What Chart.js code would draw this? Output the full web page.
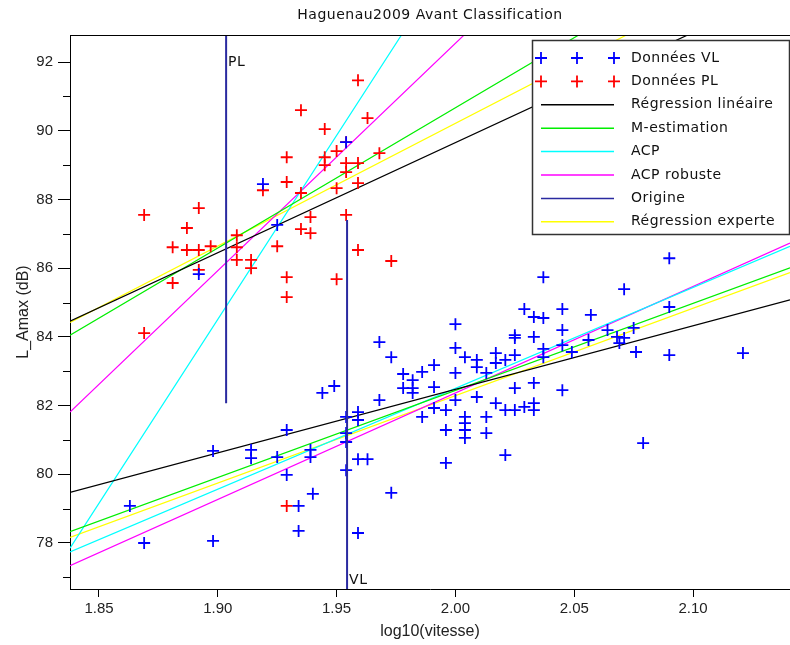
<!DOCTYPE html>
<html>
<head>
<meta charset="utf-8">
<script src="https://cdn.jsdelivr.net/npm/chart.js@4.4.0/dist/chart.umd.min.js"></script>
<style>
  html, body { margin: 0; padding: 0; background: #fff; }
  #wrap { width: 790px; height: 645px; position: relative; }
</style>
</head>
<body>
<div id="wrap"><canvas id="chart"></canvas></div>
<script>
// Axis ranges and ticks
const xMin = 1.8378, xMax = 2.1408;
const yMin = 76.66, yMax = 92.79;
const xTicks = [1.85, 1.90, 1.95, 2.00, 2.05, 2.10];
const yTicks = [78, 80, 82, 84, 86, 88, 90, 92];
const yMinorTicks = [77, 79, 81, 83, 85, 87, 89, 91];

const chartTitle = 'Haguenau2009 Avant Classification';

// Données VL (light vehicles)
const vlX = [1.954, 1.919, 1.925, 1.892, 1.954, 1.959, 1.959, 1.929, 1.898, 1.914,
             1.914, 1.925, 1.939, 1.939, 1.954, 1.954, 1.959, 1.963, 1.954, 1.929,
             1.863, 1.934, 1.940, 1.934, 1.869, 1.898, 1.959, 1.968, 1.973, 1.991,
             1.986, 1.978, 1.982, 1.978, 1.982, 1.991, 1.982, 1.968, 1.991, 1.986,
             1.949, 1.944, 1.973, 2.090, 2.037, 2.071, 2.090, 2.029, 2.033, 2.037,
             2.045, 2.057, 2.000, 2.025, 2.025, 2.033, 2.045, 2.064, 2.075, 2.037,
             2.045, 2.049, 2.056, 2.068, 2.069, 2.071, 2.076, 2.090, 2.121, 2.000,
             2.004, 2.009, 2.009, 2.017, 2.017, 2.021, 2.025, 2.037, 2.000, 2.013,
             2.025, 2.033, 2.045, 2.009, 2.000, 2.017, 2.021, 2.025, 2.029, 2.033,
             2.033, 2.004, 2.004, 2.004, 2.004, 2.013, 2.013, 1.996, 1.996, 2.021,
             1.996, 2.079];
const vlY = [89.67, 88.45, 87.26, 85.83, 81.67, 81.81, 81.58, 81.29, 80.68, 80.71,
             80.47, 80.50, 80.71, 80.50, 81.20, 80.94, 80.44, 80.44, 80.12, 79.98,
             79.08, 79.08, 79.43, 78.35, 78.00, 78.06, 78.29, 83.85, 83.41, 83.18,
             82.98, 82.92, 82.74, 82.51, 82.51, 82.54, 82.37, 82.16, 81.93, 81.67,
             82.57, 82.37, 79.46, 86.29, 85.74, 85.39, 84.87, 84.81, 84.58, 84.55,
             84.81, 84.64, 84.37, 84.05, 83.97, 84.00, 84.20, 84.20, 84.26, 83.65,
             83.76, 83.56, 83.91, 84.00, 83.82, 83.97, 83.56, 83.47, 83.53, 83.68,
             83.41, 83.33, 83.12, 83.53, 83.24, 83.33, 83.47, 83.41, 82.95, 82.95,
             82.51, 82.66, 82.45, 82.25, 82.16, 82.07, 81.87, 81.87, 81.96, 82.07,
             81.87, 81.67, 81.49, 81.29, 81.06, 81.67, 81.20, 81.87, 81.29, 80.56,
             80.33, 80.91];

// Données PL (heavy vehicles)
const plX = [1.959, 1.935, 1.963, 1.945, 1.950, 1.954, 1.929, 1.945, 1.945, 1.954,
             1.959, 1.968, 1.954, 1.929, 1.950, 1.959, 1.919, 1.935, 1.892, 1.869,
             1.887, 1.939, 1.954, 1.935, 1.939, 1.925, 1.908, 1.881, 1.887, 1.892,
             1.897, 1.908, 1.908, 1.914, 1.914, 1.892, 1.881, 1.929, 1.929, 1.950,
             1.959, 1.973, 1.869, 1.929];
const plY = [91.47, 90.60, 90.37, 90.05, 89.41, 89.67, 89.23, 89.23, 89.00, 89.06,
             89.06, 89.35, 88.80, 88.51, 88.33, 88.48, 88.27, 88.19, 87.75, 87.55,
             87.17, 87.49, 87.55, 87.14, 87.02, 86.64, 86.96, 86.61, 86.53, 86.53,
             86.64, 86.61, 86.24, 86.24, 86.00, 85.95, 85.57, 85.74, 85.16, 85.68,
             86.53, 86.21, 84.11, 79.08];

// Fitted lines: y at xMin and xMax, for the VL group and the PL group
const lineX = [xMin, xMax];
const regLinVL = [79.47, 85.08],  regLinPL = [84.46, 94.17];
const mEstVL = [78.33, 86.01],    mEstPL = [84.05, 96.42];
const acpVL = [77.74, 86.64],     acpPL = [77.85, 110.3];
const acpRobVL = [77.34, 86.73],  acpRobPL = [81.81, 101.87];
const expertVL = [78.16, 85.87],  expertPL = [84.42, 95.25];

// Origin markers (vertical lines)
const originPLX = 1.9035, originPLY = [82.07, 93.5];
const originVLX = 1.9544, originVLY = [87.40, 76.0];
const plLabelY = 92.0, vlLabelY = 76.92;

function points(xs, ys) {
  return xs.map((x, i) => ({ x: x, y: ys[i] }));
}

function twoLines(vl, pl) {
  return [
    { x: lineX[0], y: vl[0] }, { x: lineX[1], y: vl[1] },
    { x: 2.0, y: null },
    { x: lineX[0], y: pl[0] }, { x: lineX[1], y: pl[1] }
  ];
}

function lineSet(label, color, data, width, order) {
  return {
    label: label, data: data, showLine: true, spanGaps: false,
    borderColor: color, backgroundColor: color, borderWidth: width,
    pointRadius: 0, tension: 0, order: order
  };
}

const datasets = [
  {
    label: 'Données VL', data: points(vlX, vlY), pointStyle: 'cross',
    pointRadius: 6, pointBorderWidth: 1.8, borderColor: '#0000ff',
    backgroundColor: '#0000ff', showLine: false, order: 1
  },
  {
    label: 'Données PL', data: points(plX, plY), pointStyle: 'cross',
    pointRadius: 6, pointBorderWidth: 1.8, borderColor: '#ff0000',
    backgroundColor: '#ff0000', showLine: false, order: 1
  },
  lineSet('Régression linéaire', '#000000', twoLines(regLinVL, regLinPL), 1.2, 2),
  lineSet('M-estimation', '#00ee00', twoLines(mEstVL, mEstPL), 1.2, 2),
  lineSet('ACP', '#00ffff', twoLines(acpVL, acpPL), 1.2, 2),
  lineSet('ACP robuste', '#ff00ff', twoLines(acpRobVL, acpRobPL), 1.2, 2),
  lineSet('Origine', '#2a2aa0', [
    { x: originPLX, y: originPLY[0] }, { x: originPLX, y: originPLY[1] },
    { x: 1.93, y: null },
    { x: originVLX, y: originVLY[0] }, { x: originVLX, y: originVLY[1] }
  ], 2, 0),
  lineSet('Régression experte', '#ffff00', twoLines(expertVL, expertPL), 1.2, 2)
];

// Frame top line, minor ticks, title, PL/VL labels and legend box
const decorPlugin = {
  id: 'decor',
  afterDraw(chart) {
    const ctx = chart.ctx;
    const area = chart.chartArea;
    const xs = chart.scales.x, ys = chart.scales.y;
    ctx.save();
    ctx.strokeStyle = '#000';
    ctx.lineWidth = 1;
    ctx.beginPath();
    ctx.moveTo(area.left, area.top + 0.5);
    ctx.lineTo(area.right, area.top + 0.5);
    yMinorTicks.forEach(v => {
      const py = Math.round(ys.getPixelForValue(v)) + 0.5;
      ctx.moveTo(area.left - 7, py);
      ctx.lineTo(area.left, py);
    });
    ctx.stroke();

    ctx.font = '14px "DejaVu Sans"';
    ctx.letterSpacing = '0.5px';
    ctx.fillStyle = '#111';
    ctx.textBaseline = 'middle';
    ctx.textAlign = 'center';
    ctx.fillText(chartTitle, (area.left + area.right) / 2, 15);

    ctx.textAlign = 'left';
    ctx.fillText('PL', xs.getPixelForValue(originPLX) + 2, ys.getPixelForValue(plLabelY));
    ctx.fillText('VL', xs.getPixelForValue(originVLX) + 2, ys.getPixelForValue(vlLabelY));

    // legend
    const lx = 532, ly = 40, lw = 257, lh = 194;
    ctx.fillStyle = '#fff';
    ctx.fillRect(lx, ly, lw, lh);
    ctx.strokeStyle = '#333';
    ctx.lineWidth = 1.5;
    ctx.strokeRect(lx + 0.5, ly + 0.5, lw, lh);
    chart.data.datasets.forEach((ds, i) => {
      const y = 58 + i * 23.4;
      ctx.strokeStyle = ds.borderColor;
      ctx.lineWidth = 1.5;
      if (ds.showLine) {
        ctx.beginPath();
        ctx.moveTo(541, y);
        ctx.lineTo(614, y);
        ctx.stroke();
      } else {
        ctx.lineWidth = 1.8;
        [541, 577, 614].forEach(cx => {
          ctx.beginPath();
          ctx.moveTo(cx - 6, y); ctx.lineTo(cx + 6, y);
          ctx.moveTo(cx, y - 6); ctx.lineTo(cx, y + 6);
          ctx.stroke();
        });
      }
      ctx.fillStyle = '#111';
      ctx.fillText(ds.label, 631, y);
    });
    ctx.restore();
  }
};

const tickFont = { family: 'Liberation Sans', size: 15 };
const titleFont = { family: 'Liberation Sans', size: 16 };

new Chart(document.getElementById('chart'), {
  type: 'scatter',
  data: { datasets: datasets },
  plugins: [decorPlugin],
  options: {
    responsive: true,
    maintainAspectRatio: false,
    animation: false,
    layout: { autoPadding: false, padding: { top: 35, right: 0, bottom: 0, left: 0 } },
    plugins: {
      legend: { display: false },
      tooltip: { enabled: false }
    },
    scales: {
      x: {
        type: 'linear', min: xMin, max: xMax,
        afterBuildTicks: s => { s.ticks = xTicks.map(v => ({ value: v })); },
        afterFit: s => { s.height = 56; s.paddingLeft = 0; s.paddingRight = 0; },
        ticks: {
          callback: v => Number(v).toFixed(2), font: tickFont, color: '#222',
          padding: 3, maxRotation: 0, autoSkip: false
        },
        grid: { drawOnChartArea: false, drawTicks: true, tickLength: 8, color: '#000' },
        border: { display: true, color: '#000', width: 1 },
        title: {
          display: true, text: 'log10(vitesse)', font: titleFont, color: '#222',
          padding: { top: 0, bottom: 4 }
        }
      },
      y: {
        type: 'linear', min: yMin, max: yMax,
        afterBuildTicks: s => { s.ticks = yTicks.map(v => ({ value: v })); },
        afterFit: s => { s.width = 70; s.paddingTop = 0; s.paddingBottom = 0; },
        ticks: { callback: v => String(v), font: tickFont, color: '#222', padding: 5 },
        grid: { drawOnChartArea: false, drawTicks: true, tickLength: 12, color: '#000' },
        border: { display: true, color: '#000', width: 1 },
        title: {
          display: true, text: 'L_Amax (dB)', font: titleFont, color: '#222',
          padding: { top: 14, bottom: 0 }
        }
      }
    }
  }
});
</script>
</body>
</html>
